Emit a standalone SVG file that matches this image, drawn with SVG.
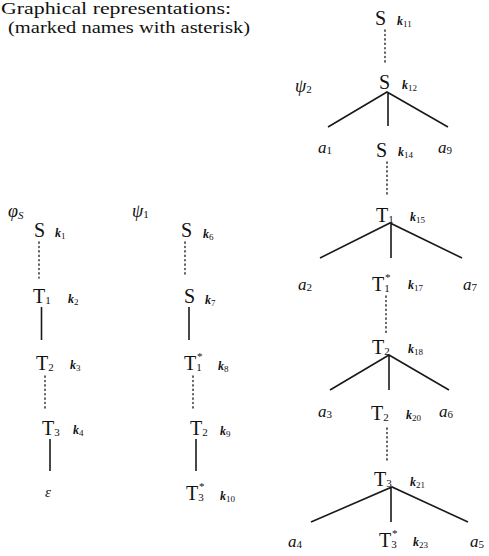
<svg xmlns="http://www.w3.org/2000/svg" width="489" height="556" viewBox="0 0 489 556">
<style>
text{font-family:"Liberation Serif","DejaVu Serif",serif;fill:#111}
.n{font-size:20px}
.sub{font-size:11px}
.k{font-size:12px;font-style:italic;font-weight:bold}
.ks{font-size:9px;font-style:normal;font-weight:normal}
.a{font-size:17px;font-style:italic}
.as{font-size:11px;font-style:normal}
.h{font-size:16px}
.solid{stroke:#1a1a1a;stroke-width:1.6;fill:none}
.dot{stroke:#222;stroke-width:1.4;fill:none;stroke-dasharray:1.2 3.2;stroke-linecap:round}
</style>
<rect width="489" height="556" fill="#fff"/>
<g id="header">
<text class="h" x="1" y="14" textLength="230" lengthAdjust="spacingAndGlyphs">Graphical representations:</text>
<text class="h" x="8" y="33" textLength="242" lengthAdjust="spacingAndGlyphs">(marked names with asterisk)</text>
</g>
<g id="connectors">
<line class="dot" x1="39" y1="242" x2="39" y2="278"/>
<line class="solid" x1="41.5" y1="307" x2="41.5" y2="340"/>
<line class="dot" x1="45" y1="376" x2="45" y2="408"/>
<line class="solid" x1="50" y1="439" x2="50" y2="471"/>
<line class="dot" x1="185" y1="242" x2="185" y2="276"/>
<line class="solid" x1="189" y1="307" x2="189" y2="340"/>
<line class="dot" x1="193" y1="376" x2="193" y2="408"/>
<line class="solid" x1="196" y1="439" x2="196" y2="471"/>
<line class="dot" x1="385" y1="30" x2="385" y2="62"/>
<path class="solid" d="M328,127 L387,92 L448,127 M388,92 L388,126"/>
<line class="dot" x1="387" y1="162" x2="387" y2="194"/>
<path class="solid" d="M320,258 L390,223 L462,258 M391,223 L391,258"/>
<line class="dot" x1="386" y1="296" x2="386" y2="333"/>
<path class="solid" d="M330,390 L389,355 L449,390 M389,355 L389,390"/>
<line class="dot" x1="387" y1="428" x2="387" y2="462"/>
<path class="solid" d="M311,522 L392,487 L468,522 M391,487 L391,522"/>
</g>
<g id="phiS-label"><text x="8" y="217" style="font-size:18px;font-style:italic">φ<tspan class="sub" dy="2">S</tspan></text></g>
<g id="k1"><text class="n" x="34" y="237">S</text><text class="k" x="55" y="237">k<tspan class="ks" dy="2">1</tspan></text></g>
<g id="k2"><text class="n" x="33" y="303">T<tspan class="sub" dy="1">1</tspan></text><text class="k" x="68" y="303">k<tspan class="ks" dy="2">2</tspan></text></g>
<g id="k3"><text class="n" x="36" y="370">T<tspan class="sub" dy="1">2</tspan></text><text class="k" x="70" y="369">k<tspan class="ks" dy="2">3</tspan></text></g>
<g id="k4"><text class="n" x="42" y="435">T<tspan class="sub" dy="1">3</tspan></text><text class="k" x="73" y="434">k<tspan class="ks" dy="2">4</tspan></text></g>
<g id="eps"><text x="45" y="497" style="font-size:15px;font-style:italic">ε</text></g>
<g id="psi1-label"><text x="132" y="217" style="font-size:18px;font-style:italic">ψ<tspan class="sub" style="font-style:normal" dy="1">1</tspan></text></g>
<g id="k6"><text class="n" x="181" y="237">S</text><text class="k" x="203" y="238">k<tspan class="ks" dy="2">6</tspan></text></g>
<g id="k7"><text class="n" x="184" y="303">S</text><text class="k" x="205" y="304">k<tspan class="ks" dy="2">7</tspan></text></g>
<g id="k8"><text class="n" x="184" y="370">T<tspan class="sub" dy="1">1</tspan><tspan class="sub" x="197" y="360">*</tspan></text><text class="k" x="218" y="370">k<tspan class="ks" dy="2">8</tspan></text></g>
<g id="k9"><text class="n" x="190" y="435">T<tspan class="sub" dy="1">2</tspan></text><text class="k" x="220" y="435">k<tspan class="ks" dy="2">9</tspan></text></g>
<g id="k10"><text class="n" x="186" y="500">T<tspan class="sub" dy="1">3</tspan><tspan class="sub" x="199" y="490">*</tspan></text><text class="k" x="220" y="500">k<tspan class="ks" dy="2">10</tspan></text></g>
<g id="psi2-label"><text x="295" y="92" style="font-size:18px;font-style:italic">ψ<tspan class="sub" style="font-style:normal" dy="1">2</tspan></text></g>
<g id="k11"><text class="n" x="375" y="25">S</text><text class="k" x="397" y="25">k<tspan class="ks" dy="2">11</tspan></text></g>
<g id="k12"><text class="n" x="379" y="89">S</text><text class="k" x="402" y="89">k<tspan class="ks" dy="2">12</tspan></text></g>
<g id="a1"><text class="a" x="318" y="153">a<tspan class="as" dy="1">1</tspan></text></g>
<g id="k14"><text class="n" x="376" y="157">S</text><text class="k" x="398" y="156">k<tspan class="ks" dy="2">14</tspan></text></g>
<g id="a9"><text class="a" x="438" y="153">a<tspan class="as" dy="1">9</tspan></text></g>
<g id="k15"><text class="n" x="376" y="222">T<tspan class="sub" dy="1">1</tspan></text><text class="k" x="410" y="221">k<tspan class="ks" dy="2">15</tspan></text></g>
<g id="a2"><text class="a" x="298" y="290">a<tspan class="as" dy="1">2</tspan></text></g>
<g id="k17"><text class="n" x="372" y="291">T<tspan class="sub" dy="1">1</tspan><tspan class="sub" x="385" y="281">*</tspan></text><text class="k" x="408" y="289">k<tspan class="ks" dy="2">17</tspan></text></g>
<g id="a7"><text class="a" x="463" y="290">a<tspan class="as" dy="1">7</tspan></text></g>
<g id="k18"><text class="n" x="372" y="354">T<tspan class="sub" dy="1">2</tspan></text><text class="k" x="408" y="353">k<tspan class="ks" dy="2">18</tspan></text></g>
<g id="a3"><text class="a" x="318" y="417">a<tspan class="as" dy="1">3</tspan></text></g>
<g id="k20"><text class="n" x="371" y="420">T<tspan class="sub" dy="1">2</tspan></text><text class="k" x="406" y="419">k<tspan class="ks" dy="2">20</tspan></text></g>
<g id="a6"><text class="a" x="439" y="417">a<tspan class="as" dy="1">6</tspan></text></g>
<g id="k21"><text class="n" x="374" y="486">T<tspan class="sub" dy="1">3</tspan></text><text class="k" x="410" y="486">k<tspan class="ks" dy="2">21</tspan></text></g>
<g id="a4"><text class="a" x="288" y="547">a<tspan class="as" dy="1">4</tspan></text></g>
<g id="k23"><text class="n" x="379" y="547">T<tspan class="sub" dy="1">3</tspan><tspan class="sub" x="392" y="537">*</tspan></text><text class="k" x="413" y="546">k<tspan class="ks" dy="2">23</tspan></text></g>
<g id="a5"><text class="a" x="470" y="547">a<tspan class="as" dy="1">5</tspan></text></g>
</svg>
